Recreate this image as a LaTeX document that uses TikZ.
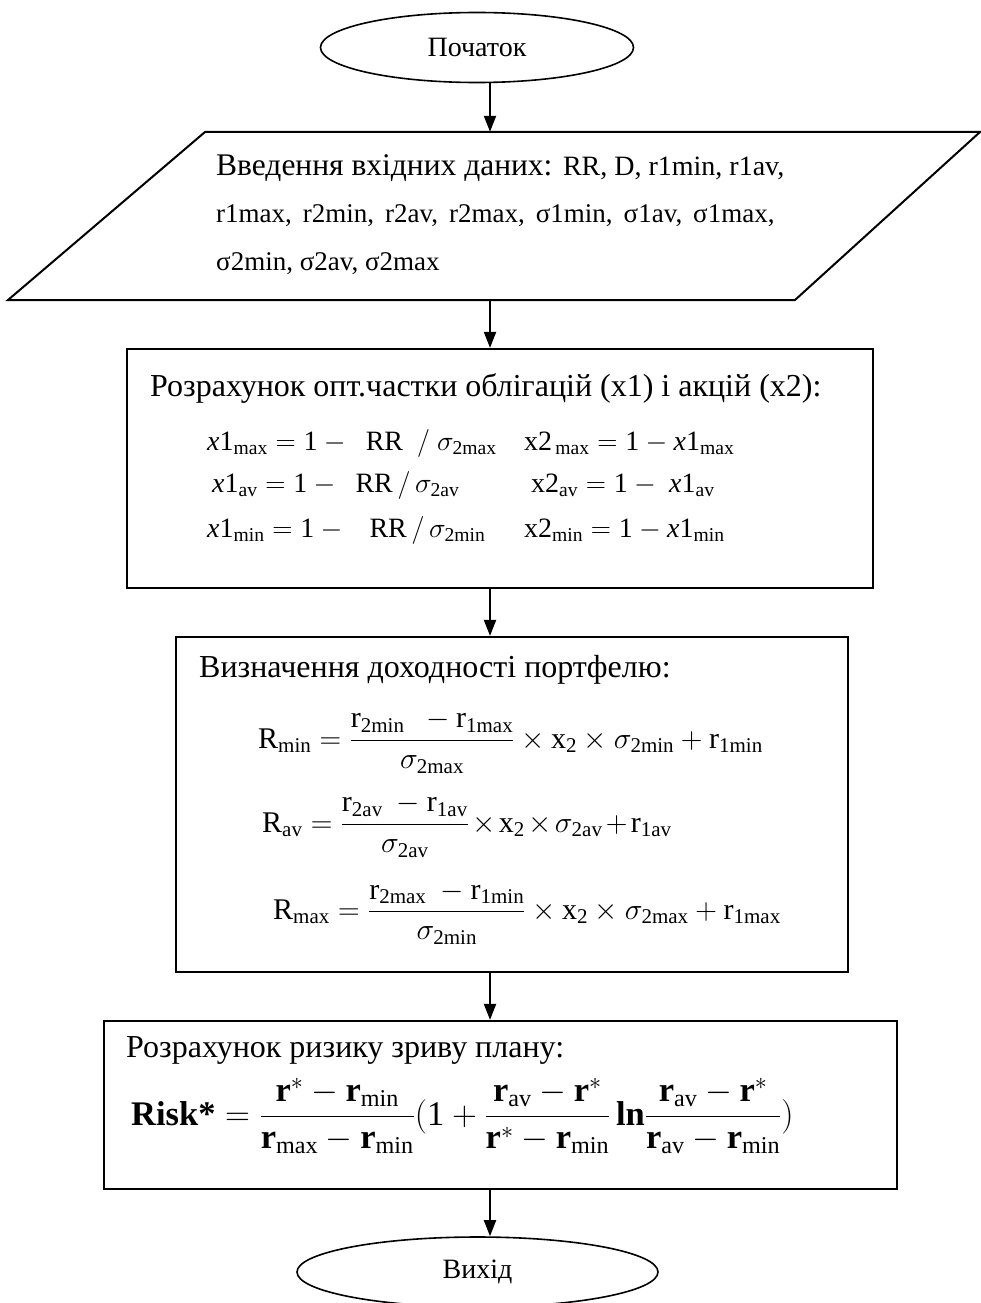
\RequirePackage{fix-cm}
\documentclass[tikz,border=0pt]{standalone}
\usepackage{amsmath}
\usepackage{fontspec}
\setmainfont{Liberation Serif}
\usetikzlibrary{shapes.geometric,arrows.meta}
\tikzset{
  outl/.style={line width=2pt},
  boxnode/.style 2 args={draw, line width=2.2pt, minimum width=#1, minimum height=#2, inner sep=0pt},
  term/.style 2 args={draw, ellipse, line width=1.6pt, minimum width=#1, minimum height=#2, inner sep=0pt, font=\fontsize{28}{32}\selectfont},
  arr/.style={line width=2pt, -{Triangle[length=16pt,width=12pt]}},
  ttl/.style={anchor=west, inner sep=0pt, font=\fontsize{32}{38}\selectfont},
  intext/.style={anchor=west, inner sep=0pt, font=\fontsize{31.5}{36}\selectfont},
  fml/.style={anchor=west, inner sep=0pt, font=\fontsize{28}{34}\selectfont},
  fmlb/.style={anchor=west, inner sep=0pt, font=\fontsize{30}{36}\selectfont},
  fmlr/.style={anchor=west, inner sep=0pt, font=\fontsize{34.5}{40}\selectfont}
}
\newcommand{\gp}{,\hspace{11pt}}
\newcommand{\tms}{\mkern2mu{\times}\mkern2mu}
\newcommand{\pls}{\mkern2mu{+}\mkern2mu}
\begin{document}
\begin{tikzpicture}[x=1pt,y=-1pt]
\useasboundingbox (0,0) rectangle (981,1303);
\clip (0,0) rectangle (981,1303);
\fill[white] (0,0) rectangle (981,1303);
\coordinate (ax) at (490,0);

% start
\node[term={313pt}{70pt}] (start) at (477,47.5) {Початок};

% input parallelogram
\draw[outl] (205,132) -- (980,132) -- (795,300) -- (8,300) -- cycle;
\node[minimum width=10pt, minimum height=168pt, inner sep=0pt] (input) at (490,216) {};
\node[intext] (in1) at (216,168) {Введення вхідних даних: {\fontsize{28}{32}\selectfont RR, D, r1min, r1av,}};
\node[intext] (in2) at (216,216) {\fontsize{27}{32}\selectfont r1max\gp r2min\gp r2av\gp r2max\gp σ1min\gp σ1av\gp σ1max,};
\node[intext] (in3) at (216,264) {\fontsize{27}{32}\selectfont σ2min, σ2av, σ2max};

% box 1
\node[boxnode={746pt}{239pt}] (b1) at (500,468.5) {};
\node[ttl] (t1) at (150,388) {Розрахунок опт.частки облігацій (x1) і акцій (x2):};
\node[fml] (f11) at (207,443) {$\mathit{x}\mathrm{1}_{\mathrm{max}} = \mathrm{1}-\ \ \mathrm{RR}\ \ /\ \sigma_{\mathrm{2max}}$};
\node[fml] (f12) at (524,443) {$\mathrm{x2}_{\,\mathrm{max}} = \mathrm{1}-\mathit{x}\mathrm{1}_{\mathrm{max}}$};
\node[fml] (f21) at (212,485) {$\mathit{x}\mathrm{1}_{\mathrm{av}} = \mathrm{1}-\ \ \mathrm{RR}\,/\,\sigma_{\mathrm{2av}}$};
\node[fml] (f22) at (531,485) {$\mathrm{x2}_{\mathrm{av}} = \mathrm{1}-\ \mathit{x}\mathrm{1}_{\mathrm{av}}$};
\node[fml] (f31) at (207,530) {$\mathit{x}\mathrm{1}_{\mathrm{min}} = \mathrm{1}-\ \ \ \mathrm{RR}\,/\,\sigma_{\mathrm{2min}}$};
\node[fml] (f32) at (524,530) {$\mathrm{x2}_{\mathrm{min}} = \mathrm{1}-\mathit{x}\mathrm{1}_{\mathrm{min}}$};

% box 2
\node[boxnode={672pt}{335pt}] (b2) at (512,804.5) {};
\node[ttl] (t2) at (199,670) {Визначення доходності портфелю:};
\node[fmlb] (g1) at (258,742) {$\displaystyle \mathrm{R}_{\mathrm{min}} = \frac{\mathrm{r}_{\mathrm{2min}}\ \ -\mathrm{r}_{\mathrm{1max}}}{\sigma_{\mathrm{2max}}}\times\mathrm{x}_{\mathrm{2}}\times\sigma_{\mathrm{2min}}+\mathrm{r}_{\mathrm{1min}}$};
\node[fmlb] (g2) at (262,826) {$\displaystyle \mathrm{R}_{\mathrm{av}} = \frac{\mathrm{r}_{\mathrm{2av}}\ -\mathrm{r}_{\mathrm{1av}}}{\sigma_{\mathrm{2av}}}\tms\mathrm{x}_{\mathrm{2}}\tms\sigma_{\mathrm{2av}}\pls\mathrm{r}_{\mathrm{1av}}$};
\node[fmlb] (g3) at (273,913) {$\displaystyle \mathrm{R}_{\mathrm{max}} = \frac{\mathrm{r}_{\mathrm{2max}}\ -\mathrm{r}_{\mathrm{1min}}}{\sigma_{\mathrm{2min}}}\times\mathrm{x}_{\mathrm{2}}\times\sigma_{\mathrm{2max}}+\mathrm{r}_{\mathrm{1max}}$};

% box 3
\node[boxnode={793pt}{168pt}] (b3) at (500.5,1105) {};
\node[ttl] (t3) at (126,1050) {Розрахунок ризику зриву плану:};
\node[fmlr] (h1) at (131,1116) {$\displaystyle \text{\bfseries Risk*} = \frac{\mathbf{r}^{*}-\mathbf{r}_{\mathrm{min}}}{\mathbf{r}_{\mathrm{max}}-\mathbf{r}_{\mathrm{min}}}(\mathrm{1}+\frac{\mathbf{r}_{\mathrm{av}}-\mathbf{r}^{*}}{\mathbf{r}^{*}-\mathbf{r}_{\mathrm{min}}}\,\mathbf{ln}\frac{\mathbf{r}_{\mathrm{av}}-\mathbf{r}^{*}}{\mathbf{r}_{\mathrm{av}}-\mathbf{r}_{\mathrm{min}}})$};

% end
\node[term={361pt}{70pt}] (end) at (477.5,1272) {Вихід};

% connectors
\draw[arr] (start.south -| ax) -- (input.north -| ax);
\draw[arr] (input.south -| ax) -- (b1.north -| ax);
\draw[arr] (b1.south -| ax) -- (b2.north -| ax);
\draw[arr] (b2.south -| ax) -- (b3.north -| ax);
\draw[arr] (b3.south -| ax) -- (end.north -| ax);
\end{tikzpicture}
\end{document}
